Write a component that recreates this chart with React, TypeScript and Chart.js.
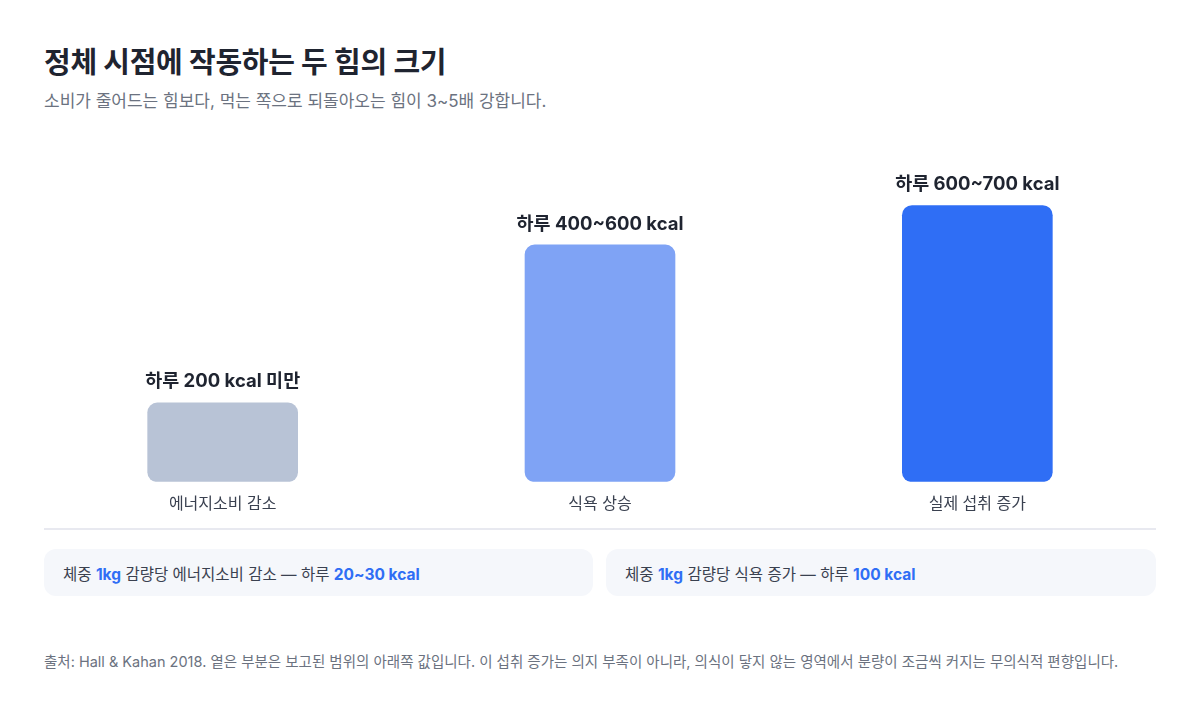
import { useEffect, useRef } from 'react';
import { Chart, registerables } from 'chart.js';

Chart.register(...registerables);

// chart data
const categories = ['에너지소비 감소', '식욕 상승', '실제 섭취 증가'];
const values = [200, 600, 700];
const valueLabels = ['하루 200 kcal 미만', '하루 400~600 kcal', '하루 600~700 kcal'];
const barColors = ['#b8c3d6', '#7fa3f5', '#2f6ef5'];

const FONT = 'Inter, "Noto Sans CJK KR", "Noto Sans", sans-serif';

// draws the bold value label above each bar
const valueLabelPlugin = {
  id: 'valueLabels',
  afterDatasetsDraw(chart: Chart) {
    const { ctx } = chart;
    const meta = chart.getDatasetMeta(0);
    ctx.save();
    ctx.font = `700 18.5px ${FONT}`;
    ctx.fillStyle = '#1f2430';
    ctx.textAlign = 'center';
    ctx.textBaseline = 'middle';
    meta.data.forEach((bar: any, i: number) => {
      ctx.fillText(valueLabels[i], bar.x, bar.y - 21);
    });
    ctx.restore();
  },
};

const ForcesChart = () => {
  const canvasRef = useRef<HTMLCanvasElement | null>(null);
  const chartRef = useRef<Chart | null>(null);

  useEffect(() => {
    if (!canvasRef.current) return;
    chartRef.current?.destroy();

    chartRef.current = new Chart(canvasRef.current, {
      type: 'bar',
      data: {
        labels: categories,
        datasets: [{
          data: values,
          backgroundColor: barColors,
          borderRadius: 10,
          borderSkipped: false,
          barThickness: 150,
        }],
      },
      options: {
        animation: false,
        responsive: true,
        maintainAspectRatio: false,
        layout: { padding: { top: 36, bottom: 11, left: 0, right: 0 } },
        plugins: { legend: { display: false }, tooltip: { enabled: false } },
        scales: {
          x: {
            grid: { display: false },
            border: { display: false },
            ticks: { color: '#3a4150', font: { family: FONT, size: 16 }, padding: 5 },
          },
          y: { display: false, min: 0, max: 800 },
        },
      },
      plugins: [valueLabelPlugin],
    });

    return () => {
      chartRef.current?.destroy();
      chartRef.current = null;
    };
  }, []);

  return <canvas ref={canvasRef}></canvas>;
};

const Card = ({ left, width, children }: { left: number; width: number; children: any }) => (
  <div style={{
    position: 'absolute', left, top: 549, width, height: 47, borderRadius: 12,
    background: '#f5f7fb', display: 'flex', alignItems: 'center', paddingLeft: 19,
    boxSizing: 'border-box', fontSize: 15.5, color: '#3a4150',
  }}>
    <span>{children}</span>
  </div>
);

const Hi = ({ children }: { children: any }) => (
  <b style={{ color: '#2f6ef5', fontWeight: 700 }}>{children}</b>
);

export default function App() {
  return (
    <div style={{
      position: 'absolute', left: 0, top: 0, width: 1200, height: 720,
      background: '#ffffff', fontFamily: FONT, overflow: 'hidden',
    }}>
      {/* Header */}
      <div style={{ position: 'absolute', left: 44, top: 43, fontSize: 29, fontWeight: 700, color: '#1f2430', lineHeight: '40px', letterSpacing: -0.3 }}>
        정체 시점에 작동하는 두 힘의 크기
      </div>
      <div style={{ position: 'absolute', left: 44, top: 89, fontSize: 17, color: '#6b7280', lineHeight: '24px' }}>
        소비가 줄어드는 힘보다, 먹는 쪽으로 되돌아오는 힘이 3~5배 강합니다.
      </div>

      {/* Chart */}
      <div style={{ position: 'absolute', left: 34, top: 130, width: 1132, height: 400 }}>
        <ForcesChart />
      </div>

      {/* Separator */}
      <div style={{ position: 'absolute', left: 44, top: 528, width: 1112, height: 2, background: '#e8e9f0' }} />

      {/* Per-kg cards */}
      <Card left={44} width={549}>
        체중 <Hi>1kg</Hi> 감량당 에너지소비 감소 — 하루 <Hi>20~30 kcal</Hi>
      </Card>
      <Card left={606} width={550}>
        체중 <Hi>1kg</Hi> 감량당 식욕 증가 — 하루 <Hi>100 kcal</Hi>
      </Card>

      {/* Footer */}
      <div style={{ position: 'absolute', left: 44, top: 651, fontSize: 14.5, color: '#6b7280', lineHeight: '22px' }}>
        출처: Hall &amp; Kahan 2018. 옅은 부분은 보고된 범위의 아래쪽 값입니다. 이 섭취 증가는 의지 부족이 아니라, 의식이 닿지 않는 영역에서 분량이 조금씩 커지는 무의식적 편향입니다.
      </div>
    </div>
  );
}
